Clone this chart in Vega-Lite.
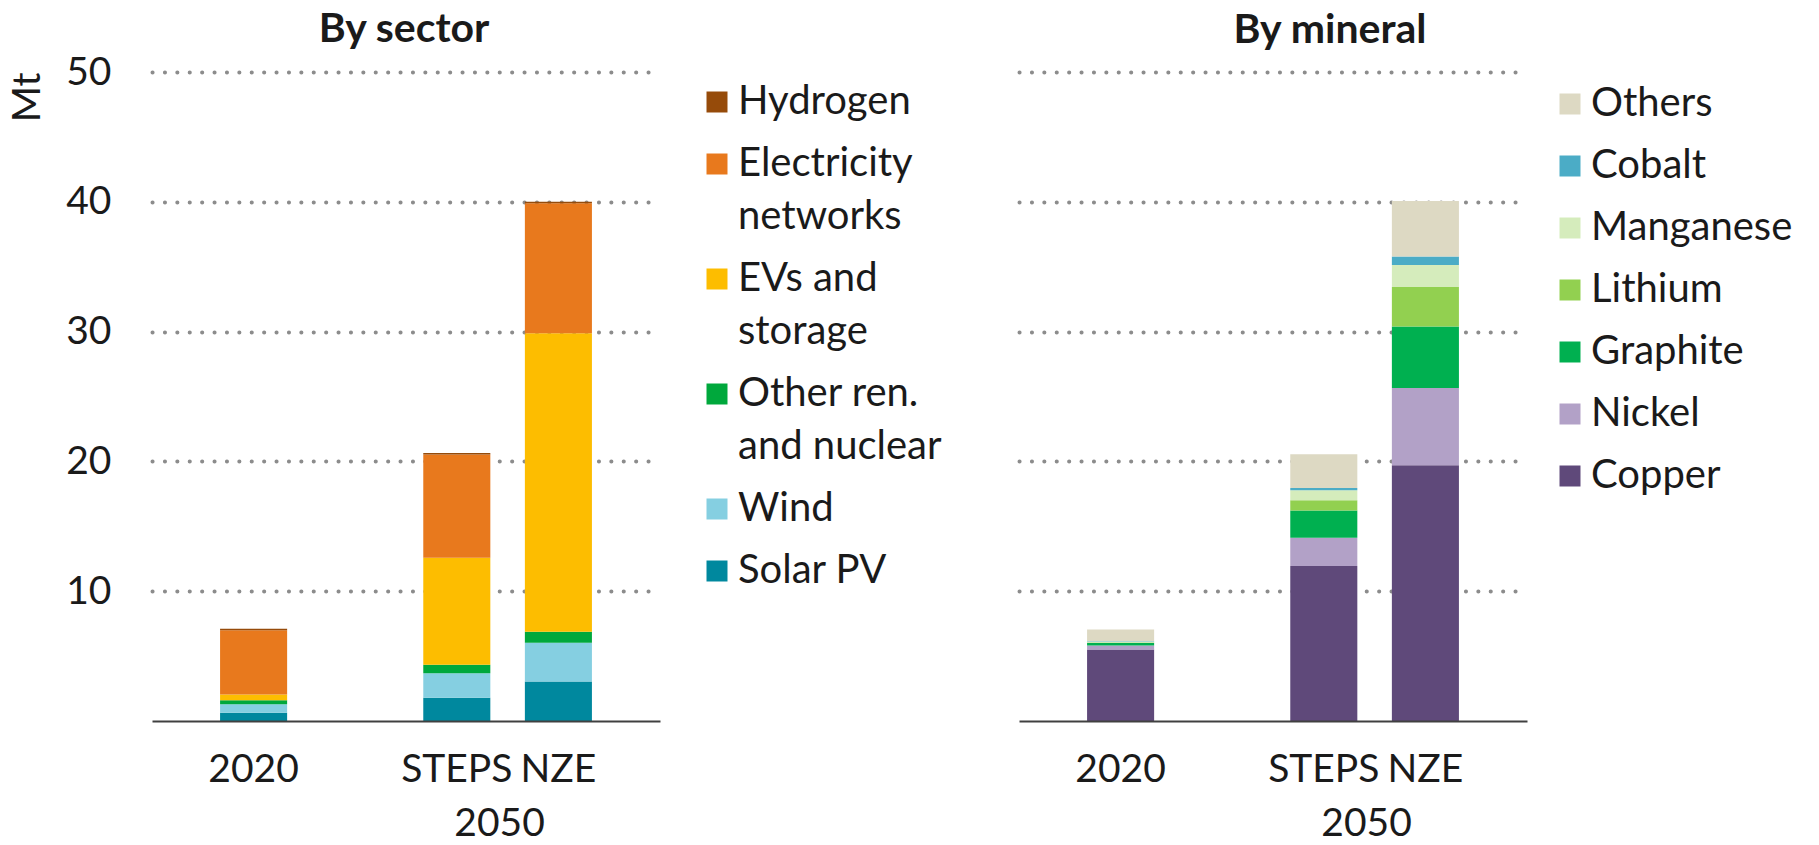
{
  "$schema": "https://vega.github.io/schema/vega-lite/v6.json",
  "padding": {"left": 8, "top": 9, "right": 0, "bottom": 0},
  "autosize": {"type": "pad"},
  "background": "white",
  "bounds": "flush",
  "spacing": 359,
  "config": {
    "font": "Lato",
    "view": {"stroke": null},
    "axis": {"labelFont": "Lato", "labelFontSize": 39, "labelColor": "#1a1a1a", "titleFont": "Lato", "titleFontSize": 39, "titleFontWeight": "normal", "titleColor": "#1a1a1a", "ticks": false},
    "title": {"font": "Lato", "fontSize": 41, "fontWeight": "bold", "color": "#1a1a1a", "frame": "group", "anchor": "middle"},
    "legend": {"labelFont": "Lato", "labelFontSize": 40, "labelColor": "#1a1a1a", "labelLimit": 500, "symbolType": "square", "symbolSize": 441, "symbolStrokeWidth": 0, "labelOffset": 1, "rowPadding": 22, "padding": 0, "orient": "none"}
  },
  "datasets": {
    "sector": [
      {"case": "2020", "sector": "Solar PV", "k": 1, "value": 0.63},
      {"case": "2020", "sector": "Wind", "k": 2, "value": 0.66},
      {"case": "2020", "sector": "Other ren. and nuclear", "k": 3, "value": 0.31},
      {"case": "2020", "sector": "EVs and storage", "k": 4, "value": 0.45},
      {"case": "2020", "sector": "Electricity networks", "k": 5, "value": 4.95},
      {"case": "2020", "sector": "Hydrogen", "k": 6, "value": 0.1},
      {"case": "STEPS", "sector": "Solar PV", "k": 1, "value": 1.79},
      {"case": "STEPS", "sector": "Wind", "k": 2, "value": 1.89},
      {"case": "STEPS", "sector": "Other ren. and nuclear", "k": 3, "value": 0.65},
      {"case": "STEPS", "sector": "EVs and storage", "k": 4, "value": 8.25},
      {"case": "STEPS", "sector": "Electricity networks", "k": 5, "value": 7.95},
      {"case": "STEPS", "sector": "Hydrogen", "k": 6, "value": 0.12},
      {"case": "NZE", "sector": "Solar PV", "k": 1, "value": 3.05},
      {"case": "NZE", "sector": "Wind", "k": 2, "value": 2.98},
      {"case": "NZE", "sector": "Other ren. and nuclear", "k": 3, "value": 0.85},
      {"case": "NZE", "sector": "EVs and storage", "k": 4, "value": 23.0},
      {"case": "NZE", "sector": "Electricity networks", "k": 5, "value": 10.0},
      {"case": "NZE", "sector": "Hydrogen", "k": 6, "value": 0.12}
    ],
    "mineral": [
      {"case": "2020", "mineral": "Copper", "k": 1, "value": 5.5},
      {"case": "2020", "mineral": "Nickel", "k": 2, "value": 0.31},
      {"case": "2020", "mineral": "Graphite", "k": 3, "value": 0.2},
      {"case": "2020", "mineral": "Lithium", "k": 4, "value": 0.04},
      {"case": "2020", "mineral": "Manganese", "k": 5, "value": 0.05},
      {"case": "2020", "mineral": "Cobalt", "k": 6, "value": 0.04},
      {"case": "2020", "mineral": "Others", "k": 7, "value": 0.9},
      {"case": "STEPS", "mineral": "Copper", "k": 1, "value": 11.95},
      {"case": "STEPS", "mineral": "Nickel", "k": 2, "value": 2.17},
      {"case": "STEPS", "mineral": "Graphite", "k": 3, "value": 2.1},
      {"case": "STEPS", "mineral": "Lithium", "k": 4, "value": 0.78},
      {"case": "STEPS", "mineral": "Manganese", "k": 5, "value": 0.78},
      {"case": "STEPS", "mineral": "Cobalt", "k": 6, "value": 0.18},
      {"case": "STEPS", "mineral": "Others", "k": 7, "value": 2.6},
      {"case": "NZE", "mineral": "Copper", "k": 1, "value": 19.7},
      {"case": "NZE", "mineral": "Nickel", "k": 2, "value": 5.96},
      {"case": "NZE", "mineral": "Graphite", "k": 3, "value": 4.73},
      {"case": "NZE", "mineral": "Lithium", "k": 4, "value": 3.04},
      {"case": "NZE", "mineral": "Manganese", "k": 5, "value": 1.71},
      {"case": "NZE", "mineral": "Cobalt", "k": 6, "value": 0.64},
      {"case": "NZE", "mineral": "Others", "k": 7, "value": 4.28}
    ]
  },
  "resolve": {"scale": {"color": "independent"}, "legend": {"color": "independent"}},
  "hconcat": [
    {
      "width": 508,
      "height": 649,
      "title": {"text": "By sector", "dx": -2, "offset": 2},
      "data": {"name": "sector"},
      "mark": {"type": "bar"},
      "encoding": {
        "x": {
          "field": "case", "type": "nominal",
          "scale": {"domain": ["2020", "gap", "STEPS", "NZE"], "paddingInner": 0.34, "paddingOuter": 0.67},
          "axis": {"labelAngle": 0, "labelExpr": "datum.value == 'gap' ? '' : datum.value", "labelPadding": 29, "domainColor": "#404040", "domainWidth": 2, "zindex": 1, "title": "2050", "titleX": 347, "titleY": 102, "titleBaseline": "middle"}
        },
        "y": {
          "field": "value", "type": "quantitative", "stack": "zero",
          "scale": {"domain": [0, 50], "nice": false},
          "axis": {"values": [10, 20, 30, 40, 50], "grid": true, "gridDash": [0.1, 12.3], "gridCap": "round", "gridWidth": 4, "gridColor": "#8c8c8c", "domain": false, "labelPadding": 41, "title": "Mt", "titleAnchor": "end", "titleAngle": 270, "titleAlign": "right", "titleY": 0, "titlePadding": 18}
        },
        "color": {
          "field": "sector", "type": "nominal",
          "scale": {
            "domain": ["Hydrogen", "Electricity networks", "EVs and storage", "Other ren. and nuclear", "Wind", "Solar PV"],
            "range": ["#964B0A", "#E8791D", "#FDBD00", "#00A83C", "#85CFE1", "#00889E"]
          },
          "legend": {
            "title": null, "legendX": 545, "legendY": 10,
            "labelBaseline": "top",
            "labelExpr": "datum.label == 'Electricity networks' ? ['Electricity', 'networks'] : datum.label == 'EVs and storage' ? ['EVs and', 'storage'] : datum.label == 'Other ren. and nuclear' ? ['Other ren.', 'and nuclear'] : datum.label",
            "encode": {"labels": {"update": {"dy": {"value": -20}, "lineHeight": {"value": 53}}}}
          }
        },
        "order": {"field": "k", "type": "quantitative"}
      }
    },
    {
      "width": 508,
      "height": 649,
      "title": {"text": "By mineral", "dx": 57, "offset": 20},
      "data": {"name": "mineral"},
      "mark": {"type": "bar"},
      "encoding": {
        "x": {
          "field": "case", "type": "nominal",
          "scale": {"domain": ["2020", "gap", "STEPS", "NZE"], "paddingInner": 0.34, "paddingOuter": 0.67},
          "axis": {"labelAngle": 0, "labelExpr": "datum.value == 'gap' ? '' : datum.value", "labelPadding": 29, "domainColor": "#404040", "domainWidth": 2, "zindex": 1, "title": "2050", "titleX": 347, "titleY": 102, "titleBaseline": "middle"}
        },
        "y": {
          "field": "value", "type": "quantitative", "stack": "zero",
          "scale": {"domain": [0, 50], "nice": false},
          "axis": {"values": [10, 20, 30, 40, 50], "grid": true, "gridDash": [0.1, 12.3], "gridCap": "round", "gridWidth": 4, "gridColor": "#8c8c8c", "domain": false, "labels": false, "title": null}
        },
        "color": {
          "field": "mineral", "type": "nominal",
          "scale": {
            "domain": ["Others", "Cobalt", "Manganese", "Lithium", "Graphite", "Nickel", "Copper"],
            "range": ["#DDD9C3", "#4BACC6", "#D5ECBC", "#92D050", "#00B050", "#B2A1C7", "#5F497A"]
          },
          "legend": {
            "title": null, "legendX": 531, "legendY": 12,
            "labelBaseline": "top",
            "encode": {"labels": {"update": {"dy": {"value": -20}}}}
          }
        },
        "order": {"field": "k", "type": "quantitative"}
      }
    }
  ]
}
